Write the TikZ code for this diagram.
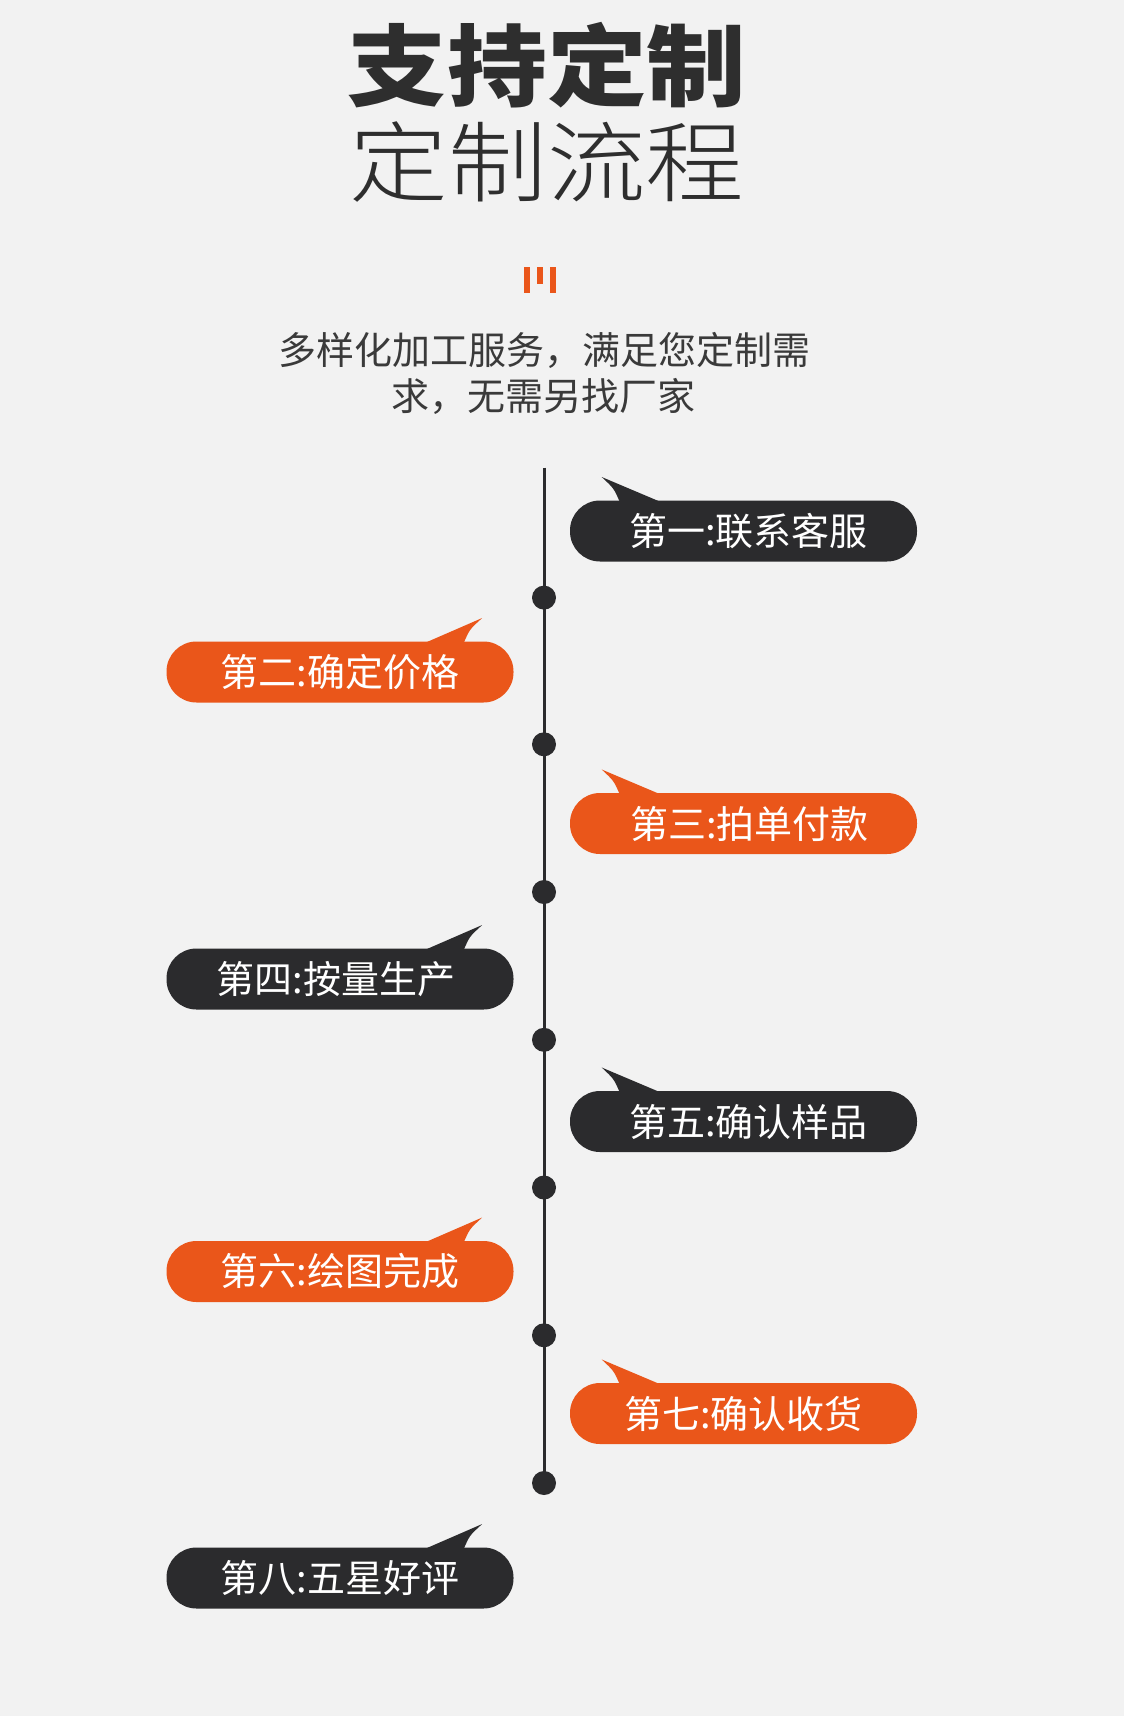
\documentclass[tikz,border=0pt]{standalone}
\usepackage{fontspec}
\setmainfont{Noto Sans CJK SC}
\newfontfamily\lightfont{Noto Sans CJK SC}[UprightFont={* Light}]
\usetikzlibrary{positioning, calc}
\definecolor{cBg}{RGB}{242,242,242}
\definecolor{cDark}{RGB}{43,43,45}
\definecolor{cOrange}{RGB}{234,86,26}
\definecolor{cText}{RGB}{46,46,46}
\definecolor{cSub}{RGB}{58,58,58}
\tikzset{
	bubble/.style   ={rectangle, rounded corners=30pt, minimum width=347pt, minimum height=61pt, inner sep=0pt, outer sep=0pt, text=white, font=\fontsize{38}{40}\selectfont},
	bubdark/.style  ={bubble, fill=cDark},
	buborange/.style={bubble, fill=cOrange},
	tdot/.style     ={circle, fill=cDark, minimum size=24pt, inner sep=0pt, outer sep=0pt},
	tline/.style    ={draw=cDark, line width=3pt},
	headtxt/.style  ={anchor=base, text=cText},
	introtxt/.style ={anchor=base, text=cSub, font=\fontsize{38}{40}\selectfont},
}
\begin{document}
\begin{tikzpicture}[x=1pt, y=-1pt]
	\fill[cBg] (0,0) rectangle (1124,1716);
	% heading
	\node[headtxt, font=\fontsize{89}{94}\selectfont\bfseries] (head1) at (547,99.5) {\scalebox{1.12}[1]{支持定制}};
	\node[headtxt, font=\fontsize{88}{94}\selectfont\lightfont] (head2) at (547,195.5) {\scalebox{1.12}[1]{定制流程}};
	% orange mark
	\fill[cOrange] (524,267) rectangle (529.5,293);
	\fill[cOrange] (537,267) rectangle (543,284);
	\fill[cOrange] (549.5,267) rectangle (555.5,293);
	\node[introtxt] (intro1) at (544,364.5) {多样化加工服务，满足您定制需};
	\node[introtxt] (intro2) at (543.5,410.5) {求，无需另找厂家};
	% timeline
	\coordinate (top) at (544,467.5);
	\coordinate (bot) at (544,1483);
	\draw[tline] (top) -- (bot);
	\foreach \y [count=\i] in {597.6,744.3,892,1039.8,1187.5,1335.3,1483}
		\node[tdot] (d\i) at (544,\y) {};
	% steps
	\node[bubdark]   (s1) at (743.5,531)    {\hspace*{10pt}第一:联系客服};
	\node[buborange] (s2) at (340,672)      {第二:确定价格};
	\node[buborange] (s3) at (743.5,823.5)  {\hspace*{12pt}第三:拍单付款};
	\node[bubdark]   (s4) at (340,979)      {第四:按量生产\hspace*{8pt}};
	\node[bubdark]   (s5) at (743.5,1121.5) {\hspace*{10pt}第五:确认样品};
	\node[buborange] (s6) at (340,1271.5)   {第六:绘图完成};
	\node[buborange] (s7) at (743.5,1413.5) {第七:确认收货};
	\node[bubdark]   (s8) at (340,1578)     {第八:五星好评};
	% tails
	\foreach \n/\c in {s1/cDark, s3/cOrange, s5/cDark, s7/cOrange}
		\fill[\c] ($(\n.north west)+(31.7,-23.5)$) -- ($(\n.north west)+(92,2)$) -- ($(\n.north west)+(50,2)$)
			.. controls ($(\n.north west)+(44,-12)$) .. ($(\n.north west)+(31.7,-23.5)$) -- cycle;
	\foreach \n/\c in {s2/cOrange, s4/cDark, s6/cOrange, s8/cDark}
		\fill[\c] ($(\n.north east)+(-31.3,-23.5)$) -- ($(\n.north east)+(-90,2)$) -- ($(\n.north east)+(-50,2)$)
			.. controls ($(\n.north east)+(-44,-12)$) .. ($(\n.north east)+(-31.3,-23.5)$) -- cycle;
\end{tikzpicture}
\end{document}
